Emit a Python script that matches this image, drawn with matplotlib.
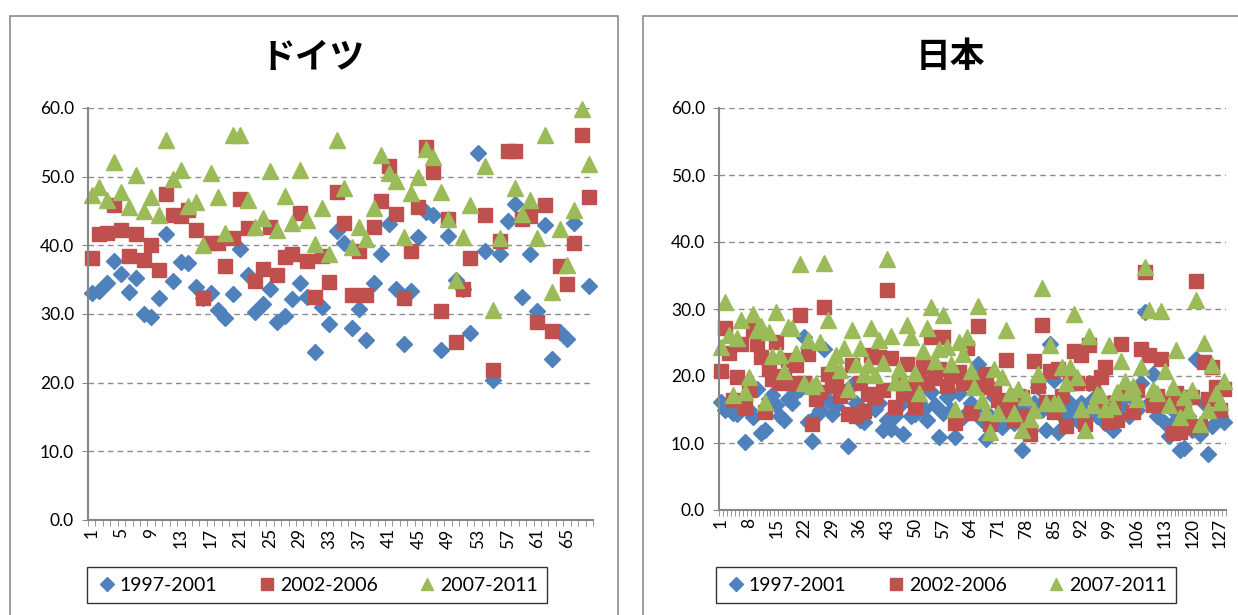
import numpy as np
import matplotlib
matplotlib.use("Agg")
import matplotlib.pyplot as plt
from matplotlib.patches import Rectangle

plt.rcParams['font.family'] = ['Lato', 'DejaVu Sans']

nan = np.nan
series_names = ['1997-2001', '2002-2006', '2007-2011']

# ドイツ (68 categories)
de_1997 = [33.1, 33.3, 34.5, 37.7, 35.8, 33.2, 35.3, 30.0, 29.5, 32.3,
           41.7, 34.8, 37.6, 37.5, 34.0, 32.3, 33.1, 30.6, 29.4, 32.9,
           39.5, 35.7, 30.3, 31.5, 33.6, 28.9, 29.7, 32.2, 34.5, 32.5,
           24.4, 31.0, 28.6, 42.1, 40.3, 28.0, 30.7, 26.2, 34.5, 38.7,
           43.1, 33.6, 25.6, 33.4, 41.2, 44.9, 44.4, 24.7, 41.3, 34.9,
           33.6, 27.3, 53.4, 39.2, 20.4, 38.8, 43.6, 46.0, 32.5, 38.8,
           30.5, 42.9, 23.4, 27.4, 26.4, 43.3, nan, 34.1]
de_2002 = [38.1, 41.7, 41.8, 45.9, 42.3, 38.5, 41.7, 37.8, 40.0, 36.4,
           47.5, 44.4, 44.2, 45.2, 42.2, 32.3, 40.3, 40.3, 37.0, 41.0,
           46.8, 42.5, 34.8, 36.6, 42.6, 35.7, 38.3, 38.7, 44.7, 37.7,
           32.5, 38.5, 34.6, 47.8, 43.3, 32.7, 39.2, 32.7, 42.7, 46.4,
           51.5, 44.5, 32.4, 39.2, 45.6, 54.3, 50.7, 30.5, 43.8, 25.9,
           33.6, 38.2, nan, 44.4, 21.8, 40.6, 53.8, 53.8, 43.9, 44.2,
           28.9, 45.9, 27.5, 37.0, 34.3, 40.3, 56.1, 47.1]
de_2007 = [47.3, 48.5, 46.6, 52.2, 47.8, 45.6, 50.2, 45.0, 47.0, 44.4,
           55.4, 49.7, 50.9, 45.7, 46.3, 40.0, 50.5, 47.0, 41.8, 56.0,
           56.0, 46.6, 42.7, 44.0, 50.8, 42.2, 47.2, 43.3, 51.0, 43.7,
           40.2, 45.5, 38.7, 55.3, 48.4, 39.8, 42.6, 40.9, 45.4, 53.2,
           50.5, 49.4, 41.2, 47.6, 50.0, 54.0, 52.9, 47.8, 43.9, 34.9,
           41.2, 45.9, nan, 51.5, 30.6, 41.0, nan, 48.3, 44.6, 46.6,
           41.0, 56.0, 33.2, 42.4, 37.1, 45.1, 59.9, 51.9]

# 日本 (128 categories)
jp_1997 = [16.1, 14.9, 15.5, 14.5, 14.3, 16.0, 10.1, 15.0, 13.9, 18.1,
           11.5, 12.0, 16.5, 17.1, 15.6, 14.0, 13.4, 16.5, 16.0, 17.6,
           18.0, 25.8, 13.1, 10.3, 14.1, 15.0, 24.1, 16.4, 14.4, 15.5,
           17.0, 17.6, 9.6, 18.6, 16.0, 13.5, 13.1, 15.0, 17.0, 15.1,
           16.0, 11.9, 13.4, 12.1, 14.0, 15.5, 11.4, 16.5, 14.0, 14.4,
           16.0, 15.0, 13.5, 17.6, 15.6, 10.9, 14.5, 16.9, 15.0, 10.9,
           17.4, 13.9, 14.5, 16.0, 15.0, 21.8, 13.5, 10.6, 14.0, 16.9,
           13.0, 12.4, 15.5, 14.0, 13.0, 15.5, 8.9, 14.5, 12.5, 16.0,
           18.4, 15.0, 11.9, 24.8, 19.4, 11.6, 15.0, 13.5, 15.9, 14.5,
           13.4, 16.0, 14.5, 18.9, 16.5, 14.0, 15.5, 13.0, 16.0, 11.9,
           14.5, 15.5, 17.0, 14.0, 16.5, 15.0, 19.0, 29.6, 16.0, 20.3,
           14.1, 15.5, 13.0, 11.1, 15.0, 13.5, 8.9, 9.2, 14.0, 12.0,
           22.6, 11.4, 15.9, 8.4, 12.5, 14.5, 14.1, 13.1]
jp_2002 = [20.8, 27.2, 23.5, 16.4, 19.8, 24.8, 15.2, 17.9, 26.8, 24.8,
           22.8, 14.6, 21.1, 19.5, 25.1, 18.9, 20.0, 22.4, 19.0, 21.6,
           29.1, 18.9, 23.3, 12.8, 16.5, 17.6, 30.3, 20.3, 18.5, 19.4,
           17.0, 17.6, 14.4, 21.6, 14.0, 19.0, 14.8, 17.3, 23.1, 16.9,
           22.8, 17.9, 32.8, 22.7, 15.4, 19.0, 17.4, 21.8, 18.0, 15.4,
           19.5, 21.3, 19.0, 25.8, 19.7, 21.0, 25.8, 18.5, 20.0, 13.0,
           20.6, 19.0, 24.2, 14.5, 19.5, 27.4, 18.4, 20.3, 12.9, 18.0,
           16.4, 15.5, 22.4, 15.1, 13.5, 17.0, 16.9, 14.0, 11.4, 22.3,
           18.5, 27.6, 16.1, 20.8, 14.6, 21.1, 17.0, 12.6, 19.0, 23.8,
           18.9, 23.1, 12.9, 24.7, 18.9, 15.5, 19.9, 21.3, 13.1, 16.0,
           13.4, 24.8, 17.5, 18.0, 14.6, 17.9, 24.1, 35.5, 23.1, 15.6,
           17.0, 22.6, 16.0, 15.9, 11.5, 17.5, 11.6, 14.5, 12.4, 16.9,
           34.2, 12.6, 22.1, 16.5, 21.3, 18.4, 15.0, 18.0]
jp_2007 = [24.4, 31.0, 26.1, 17.1, 25.6, 28.4, 17.6, 19.9, 29.2, 26.9,
           27.5, 16.1, 26.6, 23.0, 29.6, 23.2, 20.7, 27.3, 27.2, 23.4,
           36.7, 19.0, 25.4, 18.5, 19.0, 25.1, 36.9, 28.4, 22.0, 23.1,
           20.9, 24.2, 18.0, 26.9, 21.8, 24.2, 20.3, 21.6, 27.1, 20.1,
           25.3, 22.0, 37.5, 25.9, 19.1, 21.0, 19.1, 27.6, 25.8, 20.4,
           17.5, 23.8, 27.1, 30.3, 22.2, 24.0, 29.1, 24.4, 21.8, 15.1,
           25.1, 23.3, 25.8, 20.7, 18.4, 30.4, 16.4, 14.6, 11.6, 21.1,
           14.5, 19.9, 26.9, 17.5, 14.5, 18.1, 12.0, 16.9, 13.6, 14.9,
           20.3, 33.2, 15.9, 24.7, 16.0, 15.9, 21.4, 18.9, 21.4, 29.2,
           19.8, 15.1, 12.0, 25.9, 15.6, 17.3, 17.1, 15.1, 24.7, 15.5,
           17.6, 22.2, 19.3, 17.6, 18.5, 16.6, 21.3, 36.2, 29.9, 18.1,
           17.4, 29.7, 20.7, 15.6, 18.4, 23.9, 13.9, 16.9, 15.0, 17.9,
           31.4, 12.9, 25.0, 15.0, 21.7, 17.4, 16.1, 19.3]

colors = ['#4F81BD', '#C0504D', '#9BBB59']
markers = ['D', 's', '^']
msizes = [8.5, 10, 11]

fig = plt.figure(figsize=(12.38, 6.15), dpi=100)

# chart-area borders
for x0, w in [(10 / 1238, 608 / 1238), (643 / 1238, 600 / 1238)]:
    fig.patches.append(Rectangle((x0, -0.05), w, 1.05 - 16 / 615,
                                 transform=fig.transFigure, fill=False,
                                 edgecolor='#8C8C8C', linewidth=1.2))


def draw_panel(rect, title, data, label_step, title_x, legend_x):
    ax = fig.add_axes(rect)
    n = len(data[0])
    x = np.arange(1, n + 1)
    for vals, c, m, s, name in zip(data, colors, markers, msizes, series_names):
        ax.plot(x, vals, linestyle='none', marker=m, markersize=s,
                color=c, markeredgecolor=c, label=name, clip_on=False)
    ax.set_xlim(0.5, n + 0.5)
    ax.set_ylim(0, 60)
    ax.set_yticks(np.arange(0, 61, 10))
    ax.set_yticklabels([f'{v:.1f}' for v in range(0, 61, 10)], fontsize=12.5)
    ax.set_xticks(np.arange(1, n + 1, label_step))
    ax.set_xticklabels([str(v) for v in range(1, n + 1, label_step)],
                       rotation=90, fontsize=12.5)
    ax.set_xticks(np.arange(0.5, n + 1, 1), minor=True)
    ax.tick_params(axis='x', which='major', length=0, pad=6)
    ax.tick_params(axis='x', which='minor', length=4, color='#868686')
    ax.tick_params(axis='y', length=4, color='#868686', pad=6)
    ax.grid(axis='y', linestyle=(0, (4, 3)), color='#8C8C8C', linewidth=1)
    ax.set_axisbelow(True)
    for side in ['top', 'right']:
        ax.spines[side].set_visible(False)
    for side in ['left', 'bottom']:
        ax.spines[side].set_color('#868686')
        ax.spines[side].set_linewidth(1.5)
    fig.text(title_x, 1 - 57 / 615, title, ha='center', va='center',
             fontsize=25, fontweight='bold',
             family=['Noto Sans CJK JP', 'DejaVu Sans'])
    leg = ax.legend(loc='upper center', bbox_to_anchor=(legend_x, 1 - 567 / 615),
                    bbox_transform=fig.transFigure, ncol=3,
                    fontsize=14, frameon=True, fancybox=False,
                    handletextpad=0.1, columnspacing=2.0, borderpad=0.5,
                    handlelength=1.1, borderaxespad=0)
    leg.get_frame().set_edgecolor('#000000')
    leg.get_frame().set_linewidth(1)
    for h in leg.legend_handles:
        h.set_markersize(h.get_markersize() * 0.8)
    return ax


draw_panel([88 / 1238, 1 - 520 / 615, 505 / 1238, 412 / 615], 'ドイツ',
           [de_1997, de_2002, de_2007], 4, 313 / 1238, 317 / 1238)
draw_panel([719 / 1238, 1 - 510 / 615, 507 / 1238, 402 / 615], '日本',
           [jp_1997, jp_2002, jp_2007], 7, 950 / 1238, 946 / 1238)

fig.savefig('out.png', dpi=100)
